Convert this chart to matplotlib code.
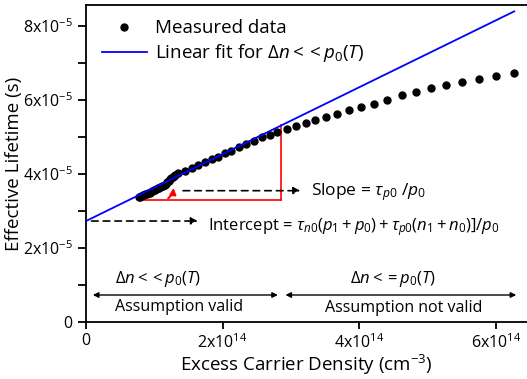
import matplotlib
matplotlib.use('Agg')
import matplotlib.pyplot as plt
from matplotlib.ticker import FixedLocator, MultipleLocator

plt.rcParams['font.family'] = ['Open Sans', 'DejaVu Sans']
plt.rcParams['mathtext.fontset'] = 'custom'
plt.rcParams['mathtext.rm'] = 'Open Sans'
plt.rcParams['mathtext.it'] = 'Open Sans:italic'

# measured data: excess carrier density (1e14 cm^-3), lifetime (1e-5 s)
dn = [0.77, 0.79, 0.81, 0.83, 0.85, 0.87, 0.89, 0.91, 0.93, 0.95, 0.97, 0.99,
      1.01, 1.03, 1.05, 1.07, 1.09, 1.11, 1.13, 1.15, 1.17, 1.19, 1.21, 1.23,
      1.25, 1.27, 1.29, 1.31,
      1.35, 1.45, 1.55, 1.64, 1.74, 1.84, 1.94, 2.04, 2.13, 2.24, 2.34, 2.46,
      2.57, 2.69, 2.80, 2.94, 3.07, 3.22, 3.36, 3.51, 3.68, 3.85, 4.03, 4.22,
      4.41, 4.62, 4.83, 5.05, 5.27, 5.50, 5.75, 6.00, 6.27]
tau = [3.38, 3.39, 3.41, 3.42, 3.44, 3.45, 3.47, 3.49, 3.50, 3.52, 3.54, 3.56,
       3.57, 3.59, 3.61, 3.63, 3.65, 3.67, 3.69, 3.71, 3.74, 3.78, 3.82, 3.86,
       3.90, 3.93, 3.96, 3.98,
       4.02, 4.09, 4.17, 4.24, 4.32, 4.40, 4.47, 4.56, 4.63, 4.72, 4.80, 4.90,
       4.99, 5.05, 5.13, 5.22, 5.30, 5.38, 5.46, 5.53, 5.62, 5.72, 5.82, 5.90,
       6.01, 6.13, 6.22, 6.32, 6.41, 6.50, 6.58, 6.66, 6.74]

# linear fit (low injection)
fit_intercept = 2.73e-5
fit_slope = 0.904e-19
fit_range = [0, 6.27e14]

# slope triangle
tri_x = [0.77e14, 2.86e14]
tri_y = 3.30e-5

xticks = [0, 2e14, 4e14, 6e14]
xticklabels = ['0', r'2x10$^{14}$', r'4x10$^{14}$', r'6x10$^{14}$']
yticks = [0, 2e-5, 4e-5, 6e-5, 8e-5]
yticklabels = ['0', r'2x10$^{-5}$', r'4x10$^{-5}$', r'6x10$^{-5}$', r'8x10$^{-5}$']

x = [v * 1e14 for v in dn]
y = [v * 1e-5 for v in tau]
fit_y = [fit_intercept + fit_slope * v for v in fit_range]

fig = plt.figure(figsize=(5.27, 3.79), dpi=100)
ax = fig.add_axes([86 / 527, 57 / 379, 441 / 527, 317 / 379])

ax.plot(x, y, 'o', color='black', markersize=5, label='Measured data', zorder=3)
ax.plot(fit_range, fit_y, color='blue', lw=1.3,
        label=r'Linear fit for $\Delta n << p_{0}(T)$', zorder=4)

# slope triangle
top_y = fit_intercept + fit_slope * tri_x[1]
ax.plot(tri_x, [tri_y, tri_y], color='red', lw=1.2, zorder=2)
ax.plot([tri_x[1], tri_x[1]], [tri_y, top_y], color='red', lw=1.2, zorder=2)
ax.annotate('', xy=(1.28e14, 3.70e-5), xytext=(1.17e14, 3.30e-5),
            arrowprops=dict(arrowstyle='-|>', color='red', lw=1.5,
                            connectionstyle='arc3,rad=0.3', mutation_scale=9))

# dashed arrows
ax.annotate('', xy=(3.18e14, 3.55e-5), xytext=(1.38e14, 3.55e-5),
            arrowprops=dict(arrowstyle='-|>', color='black', lw=1.2,
                            linestyle=(0, (4, 3)), mutation_scale=10))
ax.text(3.30e14, 3.52e-5, r'Slope = $\tau_{p0}\ /p_{0}$', fontsize=12.5,
        va='center', ha='left')
ax.annotate('', xy=(1.68e14, fit_intercept), xytext=(0.04e14, fit_intercept),
            arrowprops=dict(arrowstyle='-|>', color='black', lw=1.2,
                            linestyle=(0, (4, 3)), mutation_scale=10))
ax.text(1.78e14, 2.58e-5,
        r'Intercept = $\tau_{n0}(p_{1}+p_{0})+\tau_{p0}(n_{1}+n_{0})]/p_{0}$',
        fontsize=12, va='center', ha='left')

# regime arrows
ax.annotate('', xy=(0.06e14, 0.73e-5), xytext=(2.85e14, 0.73e-5),
            arrowprops=dict(arrowstyle='<|-|>', color='black', lw=1.0,
                            mutation_scale=8))
ax.annotate('', xy=(2.88e14, 0.73e-5), xytext=(6.34e14, 0.73e-5),
            arrowprops=dict(arrowstyle='<|-|>', color='black', lw=1.0,
                            mutation_scale=8))
ax.text(0.42e14, 1.15e-5, r'$\Delta n << p_{0}(T)$', fontsize=12, ha='left', va='center')
ax.text(0.42e14, 0.40e-5, 'Assumption valid', fontsize=11.5, ha='left', va='center')
ax.text(4.5e14, 1.15e-5, r'$\Delta n <= p_{0}(T)$', fontsize=12, ha='center', va='center')
ax.text(4.65e14, 0.37e-5, 'Assumption not valid', fontsize=11.5, ha='center', va='center')

ax.set_xlim(0, 6.457e14)
ax.set_ylim(0, 8.57e-5)
ax.xaxis.set_major_locator(FixedLocator(xticks))
ax.set_xticklabels(xticklabels)
ax.yaxis.set_major_locator(FixedLocator(yticks))
ax.set_yticklabels(yticklabels)
ax.yaxis.set_minor_locator(MultipleLocator(1e-5))
ax.tick_params(axis='both', which='both', direction='out', width=1.3, labelsize=11.5)
ax.tick_params(axis='y', which='both', length=6)
ax.tick_params(axis='x', which='major', length=5, pad=3)
for side in ['left', 'bottom', 'top']:
    ax.spines[side].set_linewidth(1.3)
ax.spines['right'].set_visible(False)

ax.set_xlabel(r'Excess Carrier Density (cm$^{-3}$)', fontsize=13.5, labelpad=1)
ax.set_ylabel('Effective Lifetime (s)', fontsize=13.5, labelpad=0)

ax.legend(loc='upper left', bbox_to_anchor=(0.01, 0.99), frameon=False,
          fontsize=13.5, handlelength=2.4, handletextpad=0.45,
          labelspacing=0.25, borderaxespad=0.2)

fig.savefig('out.png', dpi=100)
